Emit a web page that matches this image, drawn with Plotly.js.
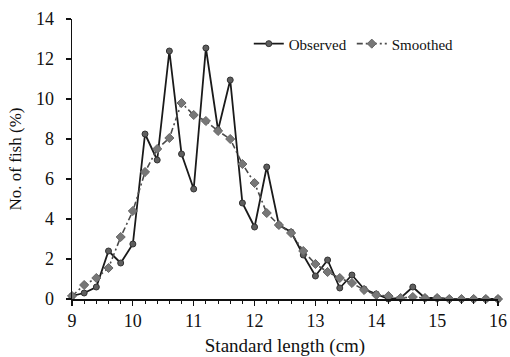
<!DOCTYPE html>
<html>
<head>
<meta charset="utf-8">
<script src="https://cdn.plot.ly/plotly-3.0.1.min.js"></script>
<style>
  html, body { margin: 0; padding: 0; background: #fff; }
  #chart { width: 510px; height: 357px; }
</style>
</head>
<body>
<div id="chart"></div>
<script>
const lengths = [9.0, 9.2, 9.4, 9.6, 9.8, 10.0, 10.2, 10.4, 10.6, 10.8, 11.0, 11.2,
  11.4, 11.6, 11.8, 12.0, 12.2, 12.4, 12.6, 12.8, 13.0, 13.2, 13.4, 13.6, 13.8,
  14.0, 14.2, 14.4, 14.6, 14.8, 15.0, 15.2, 15.4, 15.6, 15.8, 16.0];
const observed = [0.15, 0.3, 0.6, 2.4, 1.8, 2.75, 8.25, 6.95, 12.4, 7.25, 5.5, 12.55,
  8.45, 10.95, 4.8, 3.6, 6.6, 3.7, 3.35, 2.2, 1.15, 1.95, 0.55, 1.2, 0.5,
  0.25, 0.0, 0.05, 0.6, 0.05, 0.05, 0.0, 0.0, 0.0, 0.0, 0.0];
const smoothed = [0.15, 0.7, 1.05, 1.55, 3.1, 4.4, 6.35, 7.5, 8.05, 9.8, 9.2, 8.9,
  8.4, 8.0, 6.75, 5.8, 4.3, 3.7, 3.3, 2.4, 1.75, 1.35, 1.05, 0.8, 0.45,
  0.2, 0.15, 0.05, 0.1, 0.05, 0.05, 0.0, 0.0, 0.0, 0.0, 0.0];
const xTicks = [9, 10, 11, 12, 13, 14, 15, 16];
const yTicks = [0, 2, 4, 6, 8, 10, 12, 14];
const seriesNames = ["Observed", "Smoothed"];

const font = "Liberation Serif, Times New Roman, serif";

const traces = [
  {
    x: lengths, y: observed, name: seriesNames[0], type: "scatter", mode: "lines+markers",
    line: { color: "#1a1a1a", width: 1.8 },
    marker: { symbol: "circle", size: 6, color: "#5e5e5e", line: { color: "#333", width: 1 } },
    cliponaxis: false
  },
  {
    x: lengths, y: smoothed, name: seriesNames[1], type: "scatter", mode: "lines+markers",
    line: { color: "#4a4a4a", width: 1.6, dash: "6px,3px,2px,3px" },
    marker: { symbol: "diamond", size: 7, color: "#777", line: { color: "#666", width: 1 } },
    cliponaxis: false
  }
];

const layout = {
  width: 510, height: 357,
  margin: { l: 72, r: 12, t: 19, b: 58 },
  paper_bgcolor: "#fff", plot_bgcolor: "#fff",
  font: { family: font, color: "#111", size: 16 },
  showlegend: true,
  legend: {
    orientation: "h", x: 0.415, y: 0.97, xanchor: "left", yanchor: "top",
    font: { family: font, size: 15, color: "#111" },
    itemwidth: 30, bgcolor: "rgba(0,0,0,0)", tracegroupgap: 0
  },
  xaxis: {
    range: [9, 16], tickvals: xTicks, ticktext: xTicks.map(String),
    showgrid: false, zeroline: false, showline: true, linecolor: "#111", linewidth: 1.5,
    ticks: "outside", ticklen: 5, tickcolor: "#111", tickwidth: 1.2,
    minor: { dtick: 0.2, ticks: "outside", ticklen: 3, tickcolor: "#111", tickwidth: 1 },
    tickfont: { family: font, size: 18, color: "#111" },
    title: { text: "Standard length (cm)", font: { family: font, size: 19, color: "#111" }, standoff: 8 }
  },
  yaxis: {
    range: [0, 14], tickvals: yTicks, ticktext: yTicks.map(String),
    showgrid: false, zeroline: false, showline: true, linecolor: "#111", linewidth: 1.5,
    ticks: "outside", ticklen: 5, tickcolor: "#111", tickwidth: 1.2,
    ticklabelstandoff: 8,
    tickfont: { family: font, size: 18, color: "#111" },
    title: { text: "No. of fish (%)", font: { family: font, size: 17, color: "#111" }, standoff: 10 }
  }
};

Plotly.newPlot("chart", traces, layout, { staticPlot: true, displayModeBar: false });
</script>
</body>
</html>
